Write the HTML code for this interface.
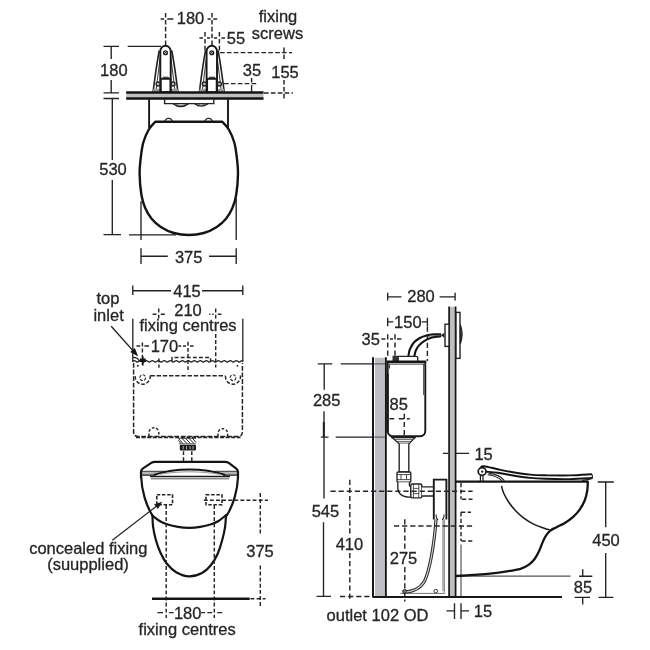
<!DOCTYPE html>
<html>
<head>
<meta charset="utf-8">
<title>WC dimension drawing</title>
<style>
html,body{margin:0;padding:0;background:#fff;}
body{width:650px;height:650px;overflow:hidden;font-family:"Liberation Sans",sans-serif;}
svg{display:block;position:absolute;left:0;top:0;filter:blur(0.65px);}
.l{stroke:#222;stroke-width:1.35;fill:none;}
.m{stroke:#181818;stroke-width:1.9;fill:none;}
.k{stroke:#141414;stroke-width:2.3;fill:none;stroke-linejoin:round;stroke-linecap:round;}
.g{stroke:#6a6a6a;stroke-width:1;fill:none;}
.d{stroke:#262626;stroke-width:1.45;fill:none;stroke-dasharray:5.2 2.9;}
#topview .d{stroke-dasharray:4.6 2.3;}
#frontview .d{stroke-dasharray:3.9 2.2;}
.w{fill:#fff;}
text{font-family:"Liberation Sans",sans-serif;font-size:16.5px;fill:#262626;stroke:#262626;stroke-width:0.3px;text-anchor:middle;}
.c{stroke:#262626;stroke-width:1.45;fill:none;}
</style>
</head>
<body>
<svg width="650" height="650" viewBox="0 0 650 650">
<defs>
<g id="hinge">
  <!-- outer flared legs -->
  <path class="l" d="M-6.2,50.5 Q-8.6,62 -12.4,91.8 M6.2,50.5 Q8.6,62 12.4,91.8" style="stroke-width:1.6"/>
  <path class="l" d="M-5.4,58 L-9.4,90 M5.4,58 L9.4,90" style="stroke-width:0.9"/>
  <rect x="-12.4" y="88.8" width="7" height="3.2" fill="#9a9a9a"/>
  <rect x="5.4" y="88.8" width="7" height="3.2" fill="#9a9a9a"/>
  <!-- inner column -->
  <path class="m w" d="M-5.2,92 L-5.2,51 A5.2,5.2 0 0 1 5.2,51 L5.2,92"/>
  <circle class="l" cx="0" cy="52.7" r="1.9"/>
  <path class="l" d="M-1.3,51.4 L1.3,54 M1.3,51.4 L-1.3,54" style="stroke-width:0.8"/>
  <!-- block -->
  <path class="l" d="M-2.4,78.8 v-1.8 h1.4 v1.8 M-0.4,78.8 v-1.8 h1.4 v1.8 M1.6,78.8 v-1.8 h1.2 v1.8" style="stroke-width:0.8"/>
  <rect class="m w" x="-4.7" y="78.8" width="9.6" height="13.4"/>
  <circle class="l" cx="-7.4" cy="84" r="2" style="stroke-width:1.3;fill:#bbb"/>
  <circle class="l" cx="7.6" cy="84" r="2" style="stroke-width:1.3;fill:#bbb"/>
</g>
</defs>

<!-- ================= TOP VIEW ================= -->
<g id="topview">
  <!-- dims: 180 top -->
  <path class="d" d="M165.6,13 V46 M212,13 V46"/>
  <path class="c" d="M160.6,19 H164.2 M167.2,19 H173.4 M207.6,19 H210.8 M213.2,19 H217.2"/>
  <text x="190.5" y="24.4">180</text>
  <!-- 55 -->
  <path class="d" d="M205,32 V52 M219.4,32 V52"/>
  <path class="c" d="M199.4,38 H203 M207,38 H210 M214,38 H217.2 M221.4,38 H225"/>
  <text x="236" y="43.8">55</text>
  <text x="278" y="22.4">fixing</text>
  <text x="277.5" y="38.6">screws</text>
  <!-- 155 -->
  <path class="d" d="M220,52.6 H292 M284,47.5 V60.5 M284,80 V98.5 M264,93 H293"/>
  <text x="285" y="77.7">155</text>
  <!-- 35 -->
  <path class="d" d="M224,83.6 H257 M251.6,78 V85"/>
  <path class="l" d="M251.6,85 V98.5"/>
  <text x="252" y="76">35</text>
  <!-- 180 left -->
  <path class="l" d="M103.5,46.3 H119 M127.7,46.3 H161 M111.2,46.3 V58.9 M111.2,80 V92.8 M103.5,92.8 H119 M103.5,98.5 H119 M112.3,98.4 V160 M112.3,180 V234.6 M103.5,234.6 H121 M129,234.8 H176"/>
  <text x="113.8" y="76">180</text>
  <text x="113" y="175.4">530</text>
  <!-- 375 -->
  <path class="l" d="M141,201.2 V240 M236.2,198.5 V240 M141,248.3 V264 M236.2,248.3 V264 M141,256.2 H167.8 M209,256.2 H236.2"/>
  <text x="188.7" y="262.6">375</text>

  <!-- under-wall structure -->
  <path class="m" d="M149.1,99 V128 M228,99 V128"/>
  <path class="l w" d="M164.6,99.3 V103.6 H213.8 V99.3"/>
  <path class="l" d="M173,103.6 Q180.8,109.4 188.6,103.6 M194.6,103.6 Q201.2,108.6 207.8,103.6"/>
  <path class="g" d="M175.5,103.9 Q180.8,107.2 186,103.9 M196.6,103.9 Q201.2,106.6 205.8,103.9"/>
  <!-- seat hinge bumps -->
  <path class="l w" d="M164.8,122 A3.8,3.6 0 0 1 172.4,122 M204.8,122 A3.8,3.6 0 0 1 212.4,122"/>
  <!-- seat -->
  <path class="k w" d="M222.3,121.8 C223.4,123.1 226.8,126.0 228.8,129.5 C230.8,132.9 232.9,137.6 234.3,142.5 C235.7,147.4 236.4,153.8 237.0,159.0 C237.6,164.2 238.1,167.8 238.0,173.8 C237.9,179.8 237.1,189.2 236.2,194.8 C235.3,200.5 234.2,203.7 232.5,207.7 C230.8,211.7 228.6,215.6 226.0,218.8 C223.4,222.0 220.5,224.6 216.8,227.0 C213.1,229.4 208.5,231.7 203.8,233.0 C199.1,234.3 193.8,235.0 188.8,235.0 C183.8,235.0 178.5,234.3 173.8,233.0 C169.1,231.7 164.5,229.4 160.8,227.0 C157.1,224.6 154.2,222.0 151.6,218.8 C149.0,215.6 146.8,211.7 145.1,207.7 C143.4,203.7 142.3,200.5 141.4,194.8 C140.5,189.2 139.7,179.8 139.6,173.8 C139.5,167.8 140.0,164.2 140.6,159.0 C141.2,153.8 141.9,147.4 143.3,142.5 C144.7,137.6 146.8,132.9 148.8,129.5 C150.8,126.0 154.2,123.1 155.3,121.8 Z" style="stroke-width:2.4"/>
  <!-- hinges -->
  <use href="#hinge" x="165.5" y="0"/>
  <use href="#hinge" x="211.8" y="0"/>
  <!-- wall -->
  <rect x="126.2" y="92" width="137.3" height="7.4" fill="#bfbfc3"/>
  <path d="M126.2,92.5 H263.5" stroke="#141414" stroke-width="2.3" fill="none"/>
  <path d="M126.2,98.5 H263.5" stroke="#141414" stroke-width="2.6" fill="none"/>
</g>

<!-- ================= FRONT VIEW ================= -->
<g id="frontview">
  <!-- 415 -->
  <path class="l" d="M132.8,285.5 V295 M242.8,285.5 V295 M132.8,290.7 H171 M202,290.7 H242.8"/>
  <text x="187" y="297">415</text>
  <text x="108" y="304.4">top</text>
  <text x="108.6" y="321.2">inlet</text>
  <text x="188" y="315.6">210</text>
  <text x="188" y="330.6">fixing centres</text>
  <text x="164.4" y="352.4">170</text>
  <!-- 210 crosses -->
  <path class="d" d="M158.7,308.6 V319 M215.7,308.6 V319 M215.7,334 V367.5 M158.9,358.5 V367.7"/>
  <path class="c" d="M152.6,314.2 H156.4 M160.8,314.2 H164.8 M209.2,314.2 H210.4 M212.2,314.2 H213.6 M217.8,314.2 H221.4"/>
  <!-- 170 crosses -->
  <path class="d" d="M142.4,342.5 V367 M188,341.8 V372.5"/>
  <path class="c" d="M136.5,346 H140.2 M144.4,346 H149 M178.4,346 H181.2 M183,346 H186 M190,346 H193.6"/>
  <!-- cistern top verticals -->
  <path class="l" d="M132.8,318.8 V362 M242.8,318.8 V362" style="stroke-width:1.3"/>
  <path class="l" d="M132.8,357.4 Q138.4,357.6 139.6,361.5"/>
  <path class="l" d="M132.8,361.3 Q134.3,359.9 135.8,361.3 Q137.3,362.7 138.8,361.3 Q140.3,359.9 141.8,361.3 Q143.3,362.7 144.8,361.3 Q146.3,359.9 147.8,361.3 Q149.3,362.7 150.8,361.3 Q152.3,359.9 153.8,361.3 Q155.3,362.7 156.8,361.3 Q158.3,359.9 159.8,361.3 Q161.3,362.7 162.8,361.3 Q164.3,359.9 165.8,361.3 Q167.3,362.7 168.8,361.3 Q170.3,359.9 171.8,361.3 Q173.3,362.7 174.8,361.3 Q176.3,359.9 177.8,361.3 Q179.3,362.7 180.8,361.3 Q182.3,359.9 183.8,361.3 Q185.3,362.7 186.8,361.3 Q188.3,359.9 189.8,361.3 Q191.3,362.7 192.8,361.3 Q194.3,359.9 195.8,361.3 Q197.3,362.7 198.8,361.3 Q200.3,359.9 201.8,361.3 Q203.3,362.7 204.8,361.3 Q206.3,359.9 207.8,361.3 Q209.3,362.7 210.8,361.3 Q212.3,359.9 213.8,361.3 Q215.3,362.7 216.8,361.3 Q218.3,359.9 219.8,361.3 Q221.3,362.7 222.8,361.3 Q224.3,359.9 225.8,361.3 Q227.3,362.7 228.8,361.3 Q230.3,359.9 231.8,361.3 Q233.3,362.7 234.8,361.3 Q236.3,359.9 237.8,361.3 Q239.3,362.7 240.8,361.3 Q241.8,359.9 242.8,361.3" style="stroke-width:1.2"/>
  <path class="d" d="M172,361 V357.5 H210.5 V361"/>
  <!-- inlet arrow -->
  <path class="l" d="M111.2,326.2 L132.5,350.1" style="stroke-width:1.4"/>
  <path d="M138.2,356.4 L130.2,352.1 L134.8,348.0 Z" fill="#141414"/>
  <path d="M140,358.6 h5.8 v3.4 h-5.8 z M142,356.4 h1.6 v9 h-1.6 z" fill="#141414"/>
  <!-- dashed cistern box -->
  <path class="d" d="M133.6,363 V432 Q133.6,436.4 138,436.4 H238 Q242.4,436.4 242.4,432 V363" style="stroke-width:1.5;stroke-dasharray:4.8 1.8"/>
  <path class="d" d="M136,437.3 H240.5" style="stroke-dasharray:4 1.6;stroke-width:1.7"/>
  <path class="d" d="M150.4,375.8 H225.4" style="stroke-width:1.5;stroke-dasharray:4.4 1.8"/>
  <circle class="l" cx="142.7" cy="377.7" r="2.9" style="stroke-width:1.1;stroke-dasharray:3 1.4"/>
  <circle class="l" cx="233" cy="377.7" r="2.9" style="stroke-width:1.1;stroke-dasharray:3 1.4"/>
  <path class="d" d="M150.1,375.5 A7.5,7.5 0 1 1 135.3,375.5 M240.4,375.5 A7.5,7.5 0 1 1 225.6,375.5" style="stroke-dasharray:3.6 1.8"/>
  <circle cx="137.8" cy="365.8" r="1" fill="#222"/>
  <circle cx="237.4" cy="365.8" r="0.9" fill="#222"/>
  <path class="d" d="M149,436 V432.6 A4.9,4.9 0 0 1 158.8,432.6 V436 M218,436 V432.6 A4.9,4.9 0 0 1 227.6,432.6 V436" style="stroke-dasharray:2.6 1.8"/>
  <!-- flush pipe connection -->
  <path class="l" d="M178.5,438.4 L183,443.6 M182,438.4 L187,443.6 M185.5,438.4 L190.5,443.6 M189,438.4 L194,443.6 M192.5,438.4 L196,442.4 M178.4,440.5 L181,443.6" style="stroke-width:1"/>
  <path class="l" d="M178.4,438.4 H196 M179,443.8 H196" style="stroke-width:0.7"/>
  <rect x="179.8" y="444.8" width="16.2" height="5.8" rx="1" fill="#1c1c1c"/>
  <path d="M183.2,446 v3.4 M186.5,446 v3.4 M190,446 v3.4 M193,446 v3.4" stroke="#bbb" stroke-width="0.9"/>
  <path class="d" d="M183.5,451.2 V461.4 M191.8,451.2 V461.4"/>
  <!-- pan front -->
  <path class="w" d="M141,477 V469.7 L153,461.8 H227 L238,469.7 V477 Z"/>
  <path d="M141.5,471.4 H161 L156,475.2 H141.5 Z M237.6,471.4 H218 L223,475.2 H237.6 Z" fill="#b5b5b5"/>
  <path class="l" d="M141,471.3 H165 M214,471.3 H238" style="stroke-width:1;stroke:#333"/>
  <path class="l" d="M141,475.2 H156 M223,475.2 H238" style="stroke-width:1.3"/>
  <path class="k" d="M154.5,474.6 C164,471.6 176,469.5 189.4,469.5 C203,469.5 215,471.6 224.5,474.6" style="stroke-width:2"/>
  <path class="l" d="M150,476.5 H230" style="stroke-width:1.7;stroke:#1a1a1a"/>
  <path class="l" d="M151,478.8 H229" style="stroke-width:0.9;stroke:#444"/>
  <path class="l" d="M160,474.2 C170,472.6 180,471.8 189.4,471.8 C199,471.8 209,472.6 219,474.2" style="stroke-width:0.8;stroke:#777"/>
  <path class="k" d="M141,477.2 V471.8 Q141,469.6 143,468.3 L151.3,462.8 Q152.8,461.8 155,461.8 H225 Q227.2,461.8 228.7,462.8 L236,468.3 Q238,469.6 238,471.8 V477.2" style="stroke-width:2.2"/>
  <path class="k" d="M141.2,477 C141.6,490 146,505.5 152.4,515.3 M238,477 C237.6,490 233.2,505.5 226.8,515.3" style="stroke-width:2.2"/>
  <path class="k" d="M152.5,515.8 C153.7,516.7 157.2,519.6 159.6,521.0 C162.0,522.4 163.8,523.2 166.9,524.2 C170.0,525.2 174.3,526.3 178.0,526.9 C181.7,527.5 185.4,527.8 189.1,527.8 C192.8,527.8 196.5,527.5 200.2,526.9 C203.9,526.3 208.2,525.2 211.3,524.2 C214.4,523.2 216.2,522.5 218.6,521.0 C221.0,519.5 224.8,516.2 226.0,515.2" style="stroke-width:2.2"/>
  <path class="k" d="M152.5,515.8 C152.6,517.6 152.5,522.9 153.1,526.9 C153.7,530.9 154.6,535.5 155.8,539.8 C157.0,544.1 158.7,548.8 160.5,552.8 C162.3,556.8 164.3,560.6 166.9,563.8 C169.5,567.0 172.5,570.1 176.2,572.2 C179.9,574.3 184.8,576.3 189.1,576.4 C193.4,576.5 198.3,574.9 202.0,573.0 C205.7,571.1 208.6,568.0 211.2,564.8 C213.8,561.6 215.8,557.9 217.7,553.7 C219.5,549.5 221.1,544.3 222.3,539.8 C223.5,535.3 224.5,531.0 225.1,526.9 C225.7,522.8 225.8,517.2 226.0,515.2" style="stroke-width:2.2"/>
  <!-- concealed fixings -->
  <path class="d" d="M156.8,494.7 H172.5 V504.8 H156.8 Z M206,494.7 H222 V504.8 H206 Z" style="stroke-dasharray:3.4 1.8;stroke-width:1.6"/>
  <path class="d" d="M166.2,505 V618 M214.3,505 V618"/>
  <path class="d" d="M203.8,500.2 H268"/>
  <path class="d" d="M260.3,493 V535.5 M260.3,565.5 V607"/>
  <text x="260" y="556.6">375</text>
  <!-- floor -->
  <path d="M152,598.8 H249.7" stroke="#141414" stroke-width="2.6" fill="none"/>
  <path class="d" d="M250.5,598.8 H265.5"/>
  <!-- concealed arrow -->
  <path class="l" d="M112.3,540.3 L157,505.8" style="stroke-width:1.2"/>
  <path d="M162.3,501.7 L157.9,509 L154.1,504.2 Z" fill="#1a1a1a"/>
  <text x="88.3" y="553.6">concealed fixing</text>
  <text x="88" y="570">(suupplied)</text>
  <path class="c" d="M157.4,612.6 H163 M169.2,612.6 H173.6 M201.2,612.6 H205 M207.4,612.6 H212.2 M217.2,612.6 H222.2"/>
  <text x="187.7" y="619.2">180</text>
  <text x="187.2" y="634.8">fixing centres</text>
</g>

<!-- ================= SIDE VIEW ================= -->
<g id="sideview">
  <!-- 280 -->
  <path class="l" d="M387.7,292.8 V300.6 M455.1,292.8 V300.6 M387.7,296.8 H401.5 M439.6,296.8 H455.1"/>
  <text x="421" y="302.4">280</text>
  <!-- 150 -->
  <path class="l" d="M387.7,317.7 V326.2 M427.4,317.7 V326.2 M387.7,321.8 H393.2 M421.8,321.8 H427.4"/>
  <text x="407.8" y="327.6">150</text>
  <text x="370.7" y="345.2">35</text>
  <path class="c" d="M381.4,339 H385.4 M390,339 H393 M397,339 H401.4"/>
  <path class="d" d="M387.7,334.3 V357 M395,334.3 V371.2 M427.4,326.5 V361"/>
  <!-- 285 / 545 -->
  <path class="l" d="M317.7,363.8 H332.3 M340.8,363.8 H373.3 M324.2,363.8 V389.7 M324,411.2 V498.5 M320.8,437.1 H328.5 M335.7,437.1 H373.3 M323.5,522.3 V596.4 M316.6,596.4 H331"/>
  <path class="l" d="M323.8,422 V437" style="stroke-width:2"/>
  <text x="326.7" y="406.2">285</text>
  <text x="325.4" y="516.8">545</text>
  <!-- dashed centre lines -->
  <path class="d" d="M349.8,479.7 V535 M349.8,553 V600 M340,596.4 H372.6"/>
  <text x="349.4" y="550">410</text>
  <path class="d" d="M404.8,519.3 V550 M404.8,567 V601.5"/>
  <text x="403.5" y="564.4">275</text>
  <text x="377.5" y="620.8">outlet 102 OD</text>

  <!-- rear wall -->
  <rect x="375" y="357.8" width="9.4" height="239" fill="#bfbfc3"/>
  <path d="M373,357.2 V597 M385.8,357.2 V597" stroke="#141414" stroke-width="2" fill="none"/>
  <path d="M374,363.9 H385 M374,437.1 H385" stroke="#4a4a4a" stroke-width="1" fill="none"/>
  <!-- cistern -->
  <path d="M441.2,334.3 C440.0,334.3 436.3,334.1 433.8,334.3 C431.3,334.5 428.9,334.8 426.4,335.5 C423.9,336.2 421.1,337.2 419.0,338.5 C416.9,339.8 415.0,341.2 413.5,343.0 C412.0,344.8 410.7,347.3 409.8,349.5 C408.9,351.7 408.6,354.9 408.4,356.0" stroke="#141414" stroke-width="2.1" fill="none"/>
  <path d="M441.2,336.2 C439.7,336.4 434.8,336.7 432.0,337.5 C429.2,338.3 426.7,339.5 424.5,340.8 C422.3,342.1 420.4,343.8 419.0,345.4 C417.6,347.0 416.6,348.7 415.8,350.5 C415.0,352.3 414.6,355.1 414.4,356.0" stroke="#141414" stroke-width="2.1" fill="none"/>
  <path d="M428,336.4 L440,335.2" stroke="#555" stroke-width="0.7"/>
  <path d="M440.8,335.2 L444.4,332.8 V337.8 Z" fill="#222"/>
  <path class="l w" d="M393.2,361 V356.3 H416 Q417.8,356.3 417.8,358.2 V361" style="stroke-width:1.3"/>
  <rect x="393" y="356" width="6" height="5" fill="#333"/>
  <path class="m w" d="M387.7,362 V430.5 Q387.7,436.2 393,436.2 H420 Q425.3,436.2 425.3,430.5 V362 Z"/>
  <path d="M386.6,361.5 H426.2" stroke="#141414" stroke-width="1.9"/>
  <path d="M388.5,364.1 H426" stroke="#333" stroke-width="1"/>
  <path d="M387.6,374 V432" stroke="#141414" stroke-width="2"/>
  <path class="l" d="M423.6,364 V395" style="stroke-width:0.8"/>
  <path class="l" d="M389.5,364.5 V368.5" style="stroke-width:0.9"/>
  <text x="398.7" y="410.2">85</text>
  <path class="d" d="M389.5,418.8 H394.2 M398.8,418.8 H409.8 M404.3,413.8 V436"/>
  <!-- flush pipe -->
  <path class="l w" d="M391.4,437 H415.4 L409.5,443.4 H398.8 Z"/>
  <path d="M391.4,437.4 H415.4" stroke="#1c1c1c" stroke-width="1.8"/>
  <path class="l" d="M395,439.6 H412 M397,441.6 H410.5" style="stroke-width:0.7"/>
  <path class="l w" d="M399.2,443.4 V472 H408.8 V443.4"/>
  <rect class="l w" x="397" y="472" width="13.8" height="10.2" rx="1.2"/>
  <path class="l" d="M397,474.6 H410.8 M397,479.6 H410.8 M401,474.6 V479.6 M406.5,474.6 V479.6" style="stroke-width:0.8"/>
  <path class="l w" d="M397.8,482.2 V487 Q397.8,497 409.8,497.2 H410.8 V486.6 Q409.4,486.6 409.4,484.5 V482.2"/>
  <rect class="l w" x="410.8" y="484" width="11" height="13.8" rx="1.2"/>
  <path class="l" d="M413.4,484 V497.8 M418.8,484 V497.8 M413.4,488.4 H418.8 M413.4,493.6 H418.8" style="stroke-width:0.8"/>
  <path class="l w" d="M421.8,486.8 H433.8 V496 H421.8"/>
  <!-- connector box + bracket -->
  <path class="m w" d="M433.8,519.5 V479.6 H446.4 V519.5"/>
  <path class="l" d="M436.2,514.6 Q436,519.4 438.2,519.6 M444,514.6 Q444.2,519.4 442,519.6" style="stroke-width:1.1"/>
  <path class="g" d="M444.3,519.5 V592.6 M400.3,593.4 H445.2 M443,519.5 V591" style="stroke-width:0.9"/>
  <path class="l" d="M436,519.5 C434,548 429,572 424.6,581 C420.5,588.5 412.5,592 402.5,592.2" style="stroke-width:3.2;stroke:#2a2a2a"/>
  <path class="l" d="M436,519.5 C434,548 429,572 424.6,581 C420.5,588.5 412.5,592 402.5,592.2" style="stroke-width:1.1;stroke:#d8d8d8"/>
  <circle class="l" cx="404.6" cy="591.2" r="1.8" style="stroke-width:0.9"/>
  <circle class="l" cx="435.8" cy="591.2" r="1.8" style="stroke-width:0.9"/>
  <!-- front panel -->
  <rect x="449.6" y="306.8" width="5.6" height="290" fill="#bfbfc3"/>
  <path d="M449.1,306.4 V597 M455.6,306.4 V597" stroke="#141414" stroke-width="1.7" fill="none"/>
  
  <rect class="l w" x="445" y="324.2" width="4" height="22.2" style="stroke-width:1.4"/>
  <rect class="l w" x="456" y="312.4" width="4" height="46" style="stroke-width:1.4"/>
  <path d="M460.4,324.6 Q464,334.2 460.4,344 Z" fill="#4a4a4a" stroke="#1c1c1c" stroke-width="1"/>
  <!-- 15 top -->
  <path class="l" d="M443,453.3 H448 M456,453.3 H469"/>
  <text x="483.6" y="460.2">15</text>
  <!-- pan side -->
  <path class="d" d="M461,483 V499.2 M462,499.2 H472.5 M461,512.2 V541 M461,512.2 H471 M461.5,541 H472.5" style="stroke-dasharray:4.2 2.4"/>
  <path class="g" d="M461,544.6 V597 M456,576.1 H570.5" style="stroke-width:1.2;stroke:#555"/>
  <path class="k" d="M587.8,481.8 C587.7,483.2 587.8,487.1 587.3,490.2 C586.8,493.3 586.1,497.1 584.8,500.3 C583.5,503.5 581.7,506.8 579.7,509.6 C577.7,512.4 575.4,514.9 572.9,517.2 C570.4,519.5 567.3,521.5 564.5,523.2 C561.7,524.9 558.4,526.1 556.0,527.4 C553.6,528.7 551.8,529.4 550.1,530.8 C548.4,532.2 547.1,533.8 545.8,535.8 C544.5,537.8 543.6,540.0 542.5,542.6 C541.4,545.2 540.4,548.4 539.1,551.1 C537.8,553.8 536.5,556.5 534.8,558.7 C533.1,561.0 531.3,562.9 528.9,564.6 C526.5,566.3 524.2,567.7 520.5,568.8 C516.8,569.9 512.0,570.6 506.9,571.4 C501.8,572.2 495.6,573.0 490.0,573.6 C484.4,574.2 478.6,574.5 473.0,574.9 C467.4,575.3 459.0,575.8 456.2,576.0" style="stroke-width:2.3"/>
  <path class="m" d="M501.5,485.9 C501.8,487.0 502.3,490.0 503.5,492.7 C504.7,495.4 506.6,499.0 508.6,502.0 C510.6,505.0 512.9,507.8 515.4,510.5 C517.9,513.2 520.7,515.8 523.8,518.1 C526.9,520.4 530.6,522.6 534.0,524.3 C537.4,526.0 541.6,527.3 544.2,528.2 C546.8,529.1 548.7,529.6 549.6,529.9" style="stroke-width:1.5"/>
  <path d="M456,481.6 H588" stroke="#141414" stroke-width="2.2" fill="none"/>
  <!-- seat side -->
  <path class="m w" d="M480.4,481 V475 M483,481 V475.4" style="stroke-width:1.2"/>
  <path class="l" d="M488.5,473.4 Q499.5,474.4 504.4,480.6 M487.6,474.8 Q497.5,476 502,480.8" style="stroke-width:1.1"/>
  <path class="k" d="M480.6,467.6 C481.2,467.4 481.0,465.9 483.9,466.2 C486.8,466.5 493.1,468.2 497.7,469.2 C502.3,470.2 506.2,471.1 511.6,472.0 C517.0,472.9 524.4,474.1 530.0,474.6 C535.6,475.2 538.3,475.2 545.0,475.3 C551.7,475.4 562.3,475.6 570.0,475.4 C577.7,475.2 587.8,474.4 591.3,474.2" style="stroke-width:1.9"/>
  <path class="k" d="M486.2,471.7 C488.1,471.9 493.5,472.1 497.7,472.7 C501.9,473.3 506.2,474.3 511.6,475.2 C517.0,476.1 524.4,477.3 530.0,477.9 C535.6,478.5 538.3,478.6 545.0,478.8 C551.7,479.0 562.2,479.2 570.0,479.1 C577.8,479.0 588.3,478.2 592.0,478.0" style="stroke-width:1.9"/>
  <path class="l" d="M591.6,474 Q593.2,476 592,478 M582,480.4 Q588,480.2 592,478.4" style="stroke-width:1.2"/>
  <circle class="m w" cx="482.1" cy="471.5" r="3.9" style="stroke-width:1.7"/>
  <circle cx="482.2" cy="471.6" r="1.2" fill="#222"/>
  <path class="d" d="M330.5,491.3 H472.6 M394,525.9 H473"/>
  <!-- floor -->
  <path d="M372.6,597 H562" stroke="#181818" stroke-width="2.1" fill="none"/>
  <!-- 15 bottom -->
  <path class="l" d="M454.5,603.2 V619 M461,603.2 V619 M446.5,610.8 H454.5 M461,610.8 H469"/>
  <text x="483" y="617.2">15</text>
  <!-- 85 right -->
  <path class="l" d="M582.7,569.2 V576.2 M579.2,576.2 H592.3 M574.6,597.4 H590 M582.7,597.4 V604.6"/>
  <text x="583" y="592.8">85</text>
  <!-- 450 -->
  <path class="l" d="M597.7,482 H613.8 M605.7,482 V527.2 M605.7,553 V597.4 M598.5,597.4 H613.4"/>
  <text x="606" y="546.2">450</text>
</g>
</svg>
</body>
</html>
